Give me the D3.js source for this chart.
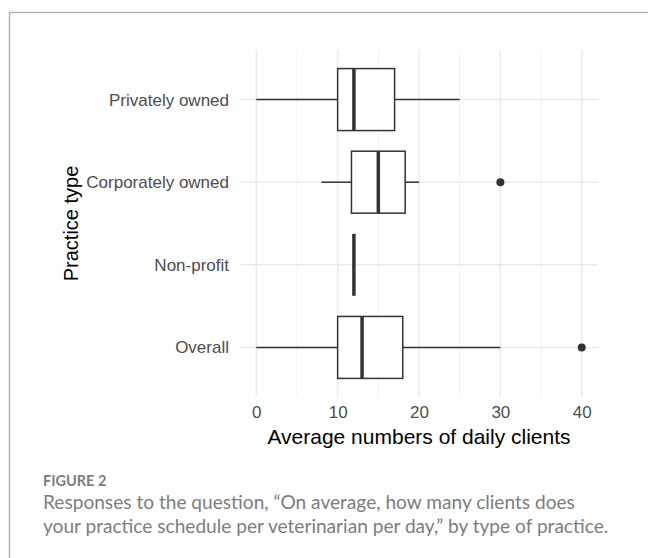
<!DOCTYPE html>
<html>
<head>
<meta charset="utf-8">
<script src="https://cdn.jsdelivr.net/npm/d3@7"></script>
<style>
  body { margin: 0; background: #fff; }
  svg { display: block; }
</style>
</head>
<body>
<div id="chart"></div>
<script>
// practice types, top to bottom
const categories = ['Privately owned', 'Corporately owned', 'Non-profit', 'Overall'];
// box stats
const whiskerLow = [0, 8, 12, 0];
const q1 = [10, 11.7, 12, 10];
const median = [12, 15, 12, 13];
const q3 = [17, 18.3, 12, 18];
const whiskerHigh = [25, 20, 12, 30];
const outliers = [[], [30], [], [40]];
const xTicks = [0, 10, 20, 30, 40];
const xMinor = [5, 15, 25, 35];

const W = 648, H = 558;
const svg = d3.select('#chart').append('svg')
  .attr('width', W)
  .attr('height', H);

// frame round the figure
svg.append('path')
  .attr('d', `M9.5,${H + 2} V12.5 H${W + 2}`)
  .attr('fill', 'none')
  .attr('stroke', '#b3b3b3')
  .attr('stroke-width', 1.5);

const panel = {left: 240, right: 598, top: 50, bottom: 397};

const x = d3.scaleLinear()
  .domain([-2, 42])
  .range([panel.left, panel.right]);

const y = d3.scalePoint()
  .domain(categories)
  .range([panel.top, panel.bottom])
  .padding(0.6);

const step = y.step();
const boxH = step * 0.75;

const data = categories.map((c, i) => ({
  cat: c,
  lo: whiskerLow[i],
  q1: q1[i],
  med: median[i],
  q3: q3[i],
  hi: whiskerHigh[i],
  out: outliers[i],
}));

const grid = svg.append('g');
grid.selectAll('line.minor')
  .data(xMinor)
  .enter().append('line')
  .attr('x1', d => x(d)).attr('x2', d => x(d))
  .attr('y1', panel.top).attr('y2', panel.bottom)
  .attr('stroke', '#f0f0f0').attr('stroke-width', 1);
grid.selectAll('line.major')
  .data(xTicks)
  .enter().append('line')
  .attr('x1', d => x(d)).attr('x2', d => x(d))
  .attr('y1', panel.top).attr('y2', panel.bottom)
  .attr('stroke', '#ebebeb').attr('stroke-width', 1.5);
grid.selectAll('line.hz')
  .data(categories)
  .enter().append('line')
  .attr('x1', panel.left).attr('x2', panel.right)
  .attr('y1', d => y(d)).attr('y2', d => y(d))
  .attr('stroke', '#ebebeb').attr('stroke-width', 1.5);

const ink = '#333333';
const boxes = svg.append('g')
  .selectAll('g')
  .data(data)
  .enter().append('g');

// whiskers
boxes.append('line')
  .attr('x1', d => x(d.lo)).attr('x2', d => x(d.q1))
  .attr('y1', d => y(d.cat)).attr('y2', d => y(d.cat))
  .attr('stroke', ink).attr('stroke-width', 1.5);
boxes.append('line')
  .attr('x1', d => x(d.q3)).attr('x2', d => x(d.hi))
  .attr('y1', d => y(d.cat)).attr('y2', d => y(d.cat))
  .attr('stroke', ink).attr('stroke-width', 1.5);

boxes.append('rect')
  .attr('x', d => x(d.q1))
  .attr('width', d => x(d.q3) - x(d.q1))
  .attr('y', d => y(d.cat) - boxH / 2)
  .attr('height', boxH)
  .attr('fill', '#fff')
  .attr('stroke', ink)
  .attr('stroke-width', 1.5);

boxes.append('line')
  .attr('x1', d => x(d.med)).attr('x2', d => x(d.med))
  .attr('y1', d => y(d.cat) - boxH / 2).attr('y2', d => y(d.cat) + boxH / 2)
  .attr('stroke', ink).attr('stroke-width', 3.5);

boxes.selectAll('circle')
  .data(d => d.out.map(v => ({v, cat: d.cat})))
  .enter().append('circle')
  .attr('cx', d => x(d.v))
  .attr('cy', d => y(d.cat))
  .attr('r', 4)
  .attr('fill', ink);

// axes
const xAxis = svg.append('g')
  .attr('transform', `translate(0,${panel.bottom})`)
  .call(d3.axisBottom(x).tickValues(xTicks).tickSize(0).tickPadding(9));
xAxis.select('.domain').remove();
xAxis.selectAll('text')
  .attr('font-family', 'Liberation Sans, Arial, sans-serif')
  .attr('font-size', 17)
  .attr('fill', '#4d4d4d');

const yAxis = svg.append('g')
  .attr('transform', `translate(${panel.left},0)`)
  .call(d3.axisLeft(y).tickSize(0).tickPadding(11));
yAxis.select('.domain').remove();
yAxis.selectAll('text')
  .attr('font-family', 'Liberation Sans, Arial, sans-serif')
  .attr('font-size', 17)
  .attr('fill', '#4d4d4d');

svg.append('text')
  .attr('x', (panel.left + panel.right) / 2)
  .attr('y', 444)
  .attr('text-anchor', 'middle')
  .attr('font-family', 'Liberation Sans, Arial, sans-serif')
  .attr('font-size', 21)
  .attr('fill', '#000')
  .text('Average numbers of daily clients');

svg.append('text')
  .attr('transform', `translate(78,${(panel.top + panel.bottom) / 2}) rotate(-90)`)
  .attr('text-anchor', 'middle')
  .attr('font-family', 'Liberation Sans, Arial, sans-serif')
  .attr('font-size', 20)
  .attr('fill', '#000')
  .text('Practice type');

// caption
const cap = svg.append('g')
  .attr('font-family', 'Lato, Open Sans, sans-serif')
  .attr('fill', '#7d7d7d');
cap.append('text')
  .attr('x', 43).attr('y', 486)
  .attr('font-size', 14.5)
  .attr('font-weight', 'bold')
  .text('FIGURE 2');
cap.append('text')
  .attr('x', 43).attr('y', 509)
  .attr('font-size', 19.1)
  .text('Responses to the question, \u201cOn average, how many clients does');
cap.append('text')
  .attr('x', 43).attr('y', 533)
  .attr('font-size', 19.1)
  .text('your practice schedule per veterinarian per day,\u201d by type of practice.');
</script>
</body>
</html>
